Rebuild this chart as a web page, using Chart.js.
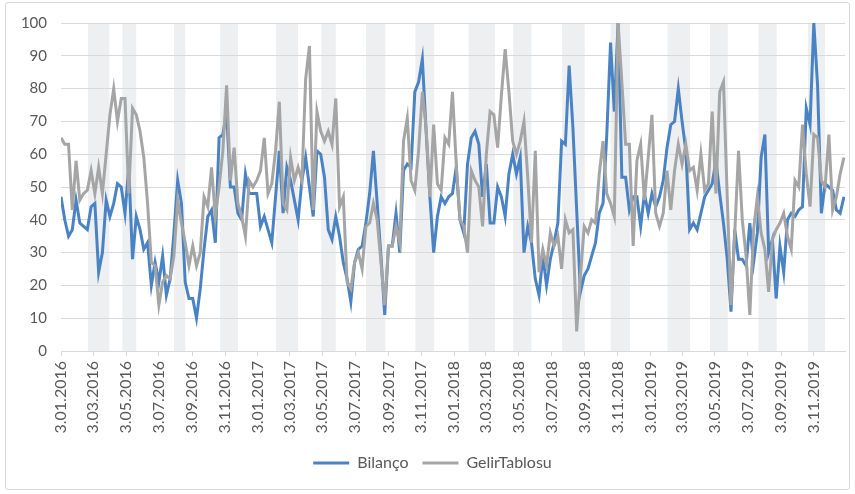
<!DOCTYPE html>
<html>
<head>
<meta charset="utf-8">
<script src="https://cdn.jsdelivr.net/npm/chart.js@4/dist/chart.umd.min.js"></script>
<style>
  html, body { margin: 0; padding: 0; background: #ffffff; }
  #frame { position: absolute; left: 5px; top: 2px; width: 845px; height: 488px;
           border: 1px solid #d9d9d9; border-radius: 3px; box-sizing: border-box; }
  #wrap { position: absolute; left: 0; top: 0; width: 855px; height: 494px; }
</style>
</head>
<body>
<div id="frame"></div>
<div id="wrap"><canvas id="chart" width="855" height="494"></canvas></div>
<script>
// Weekly series, first week starting Sunday 2016-01-03
const firstWeek = '2016-01-03';

const bilanco = [
  47, 40, 35, 37, 46, 39, 38, 37, 44, 45,
  24, 30, 46, 41, 45, 51, 50, 42, 56, 28,
  41, 37, 31, 33, 20, 27, 21, 29, 17, 22,
  36, 52, 45, 21, 16, 16, 10, 19, 31, 41,
  43, 33, 65, 66, 73, 50, 50, 42, 40, 54,
  48, 48, 48, 38, 41, 37, 33, 47, 61, 42,
  56, 52, 46, 40, 52, 59, 50, 41, 61, 60,
  53, 37, 34, 41, 35, 27, 22, 15, 27, 31,
  32, 39, 48, 61, 45, 29, 11, 32, 32, 42,
  30, 55, 57, 56, 79, 82, 89, 67, 47, 30,
  41, 47, 45, 47, 48, 56, 40, 36, 57, 65,
  67, 63, 47, 57, 39, 39, 50, 47, 41, 54,
  60, 54, 59, 30, 38, 33, 22, 17, 29, 20,
  28, 33, 39, 64, 63, 87, 68, 43, 18, 23,
  25, 29, 33, 42, 45, 66, 94, 73, 100, 53,
  53, 43, 47, 47, 38, 48, 42, 48, 44, 47,
  52, 62, 69, 70, 80, 70, 61, 37, 39, 37,
  42, 47, 49, 51, 58, 48, 39, 28, 12, 37,
  28, 28, 26, 39, 27, 36, 59, 66, 30, 34,
  16, 32, 24, 40, 42, 41, 43, 44, 74, 69,
  100, 81, 42, 51, 50, 49, 43, 42, 47
];

const gelirTablosu = [
  65, 63, 63, 43, 58, 46, 48, 49, 55, 48,
  56, 48, 60, 72, 80, 70, 77, 77, 48, 74,
  72, 67, 59, 45, 27, 26, 14, 21, 23, 22,
  29, 46, 39, 33, 26, 32, 26, 30, 47, 44,
  56, 41, 50, 61, 81, 52, 62, 45, 41, 35,
  52, 50, 52, 55, 65, 48, 51, 61, 76, 45,
  43, 59, 52, 56, 52, 83, 93, 43, 73, 67,
  64, 67, 63, 77, 44, 47, 21, 19, 27, 30,
  25, 38, 39, 45, 40, 27, 14, 32, 32, 38,
  33, 64, 71, 52, 49, 61, 79, 68, 47, 69,
  51, 49, 65, 63, 79, 57, 40, 38, 30, 55,
  52, 50, 38, 60, 73, 72, 62, 78, 92, 79,
  64, 60, 64, 70, 53, 33, 61, 24, 31, 26,
  36, 32, 35, 25, 40, 36, 37, 6, 23, 38,
  36, 40, 39, 54, 64, 48, 45, 41, 100, 82,
  63, 63, 32, 58, 63, 46, 59, 72, 42, 38,
  42, 55, 43, 55, 63, 57, 63, 55, 56, 49,
  60, 49, 51, 73, 48, 79, 82, 47, 14, 36,
  61, 40, 29, 11, 37, 47, 36, 31, 18, 34,
  37, 39, 42, 35, 31, 52, 50, 69, 54, 44,
  66, 65, 52, 50, 66, 43, 47, 54, 59
];

// Axis tick labels (every two months)
const xTickLabels = [
  '3.01.2016', '3.03.2016', '3.05.2016', '3.07.2016', '3.09.2016', '3.11.2016',
  '3.01.2017', '3.03.2017', '3.05.2017', '3.07.2017', '3.09.2017', '3.11.2017',
  '3.01.2018', '3.03.2018', '3.05.2018', '3.07.2018', '3.09.2018', '3.11.2018',
  '3.01.2019', '3.03.2019', '3.05.2019', '3.07.2019', '3.09.2019', '3.11.2019'
];
const yTickValues = [0, 10, 20, 30, 40, 50, 60, 70, 80, 90, 100];

// Shaded reporting periods (start, end)
const reportingPeriods = [
  ['2016-02-22', '2016-04-02'], ['2016-04-26', '2016-05-22'],
  ['2016-07-31', '2016-08-21'], ['2016-10-25', '2016-11-27'],
  ['2017-02-06', '2017-03-19'], ['2017-05-01', '2017-05-28'],
  ['2017-07-23', '2017-08-28'], ['2017-10-23', '2017-11-27'],
  ['2018-01-30', '2018-03-20'], ['2018-04-23', '2018-05-27'],
  ['2018-07-23', '2018-09-03'], ['2018-10-21', '2018-11-26'],
  ['2019-02-04', '2019-03-18'], ['2019-04-24', '2019-05-27'],
  ['2019-07-23', '2019-08-26'], ['2019-10-23', '2019-11-24']
];

const DAY = 86400000;
const origin = Date.parse(firstWeek + 'T00:00:00Z');
const isoDay = s => (Date.parse(s + 'T00:00:00Z') - origin) / DAY;
const dotDay = s => {
  const [d, m, y] = s.split('.').map(Number);
  return (Date.UTC(y, m - 1, d) - origin) / DAY;
};
const weekDays = bilanco.map((_, i) => i * 7);
const toPoints = arr => arr.map((v, i) => ({ x: weekDays[i], y: v }));
const tickDays = xTickLabels.map(dotDay);
const lastDay = isoDay('2019-12-31');

const bandPlugin = {
  id: 'reportingBands',
  beforeDraw(chart) {
    const { ctx, chartArea: a, scales: { x } } = chart;
    ctx.save();
    ctx.fillStyle = '#edeff1';
    reportingPeriods.forEach(([s, e]) => {
      const x0 = x.getPixelForValue(isoDay(s));
      const x1 = x.getPixelForValue(isoDay(e));
      ctx.fillRect(x0, a.top, x1 - x0, a.bottom - a.top);
    });
    ctx.restore();
  }
};

const textColor = '#595959';
const gridColor = '#d9d9d9';

new Chart(document.getElementById('chart'), {
  type: 'line',
  data: {
    datasets: [
      {
        label: 'Bilanço',
        data: toPoints(bilanco),
        borderColor: '#4a83c4',
        backgroundColor: '#4a83c4',
        borderWidth: 3,
        pointRadius: 0,
        tension: 0,
        fill: false,
        order: 1
      },
      {
        label: 'GelirTablosu',
        data: toPoints(gelirTablosu),
        borderColor: '#a5a5a5',
        backgroundColor: '#a5a5a5',
        borderWidth: 3,
        pointRadius: 0,
        tension: 0,
        fill: false,
        order: 0
      }
    ]
  },
  options: {
    responsive: false,
    animation: false,
    devicePixelRatio: 1,
    layout: { padding: { left: 20, right: 10, top: 22, bottom: 13 } },
    scales: {
      x: {
        type: 'linear',
        min: 0,
        max: lastDay,
        afterFit(s) { s.height = 90; },
        afterBuildTicks(s) { s.ticks = tickDays.map(v => ({ value: v })); },
        grid: { drawOnChartArea: false, drawTicks: true, tickLength: 5, color: gridColor },
        border: { display: true, color: gridColor },
        ticks: {
          autoSkip: false,
          minRotation: 90,
          maxRotation: 90,
          padding: 5,
          color: textColor,
          font: { family: 'Lato', size: 16 },
          callback: (v, i) => xTickLabels[i]
        }
      },
      y: {
        min: 0,
        max: 100,
        afterFit(s) { s.width = 41; },
        afterBuildTicks(s) { s.ticks = yTickValues.map(v => ({ value: v })); },
        grid: { color: gridColor, drawTicks: false },
        border: { display: false },
        ticks: {
          padding: 14,
          color: textColor,
          font: { family: 'Lato', size: 15 }
        }
      }
    },
    plugins: {
      legend: {
        position: 'bottom',
        labels: {
          boxWidth: 36,
          boxHeight: 3,
          padding: 14,
          color: textColor,
          font: { family: 'Lato', size: 16 },
          generateLabels(chart) {
            return chart.data.datasets.map((ds, i) => ({
              text: ds.label,
              fillStyle: ds.borderColor,
              strokeStyle: 'rgba(0,0,0,0)',
              lineWidth: 0,
              fontColor: textColor,
              hidden: false,
              datasetIndex: i
            }));
          }
        }
      },
      tooltip: { enabled: false }
    }
  },
  plugins: [bandPlugin]
});
</script>
</body>
</html>
